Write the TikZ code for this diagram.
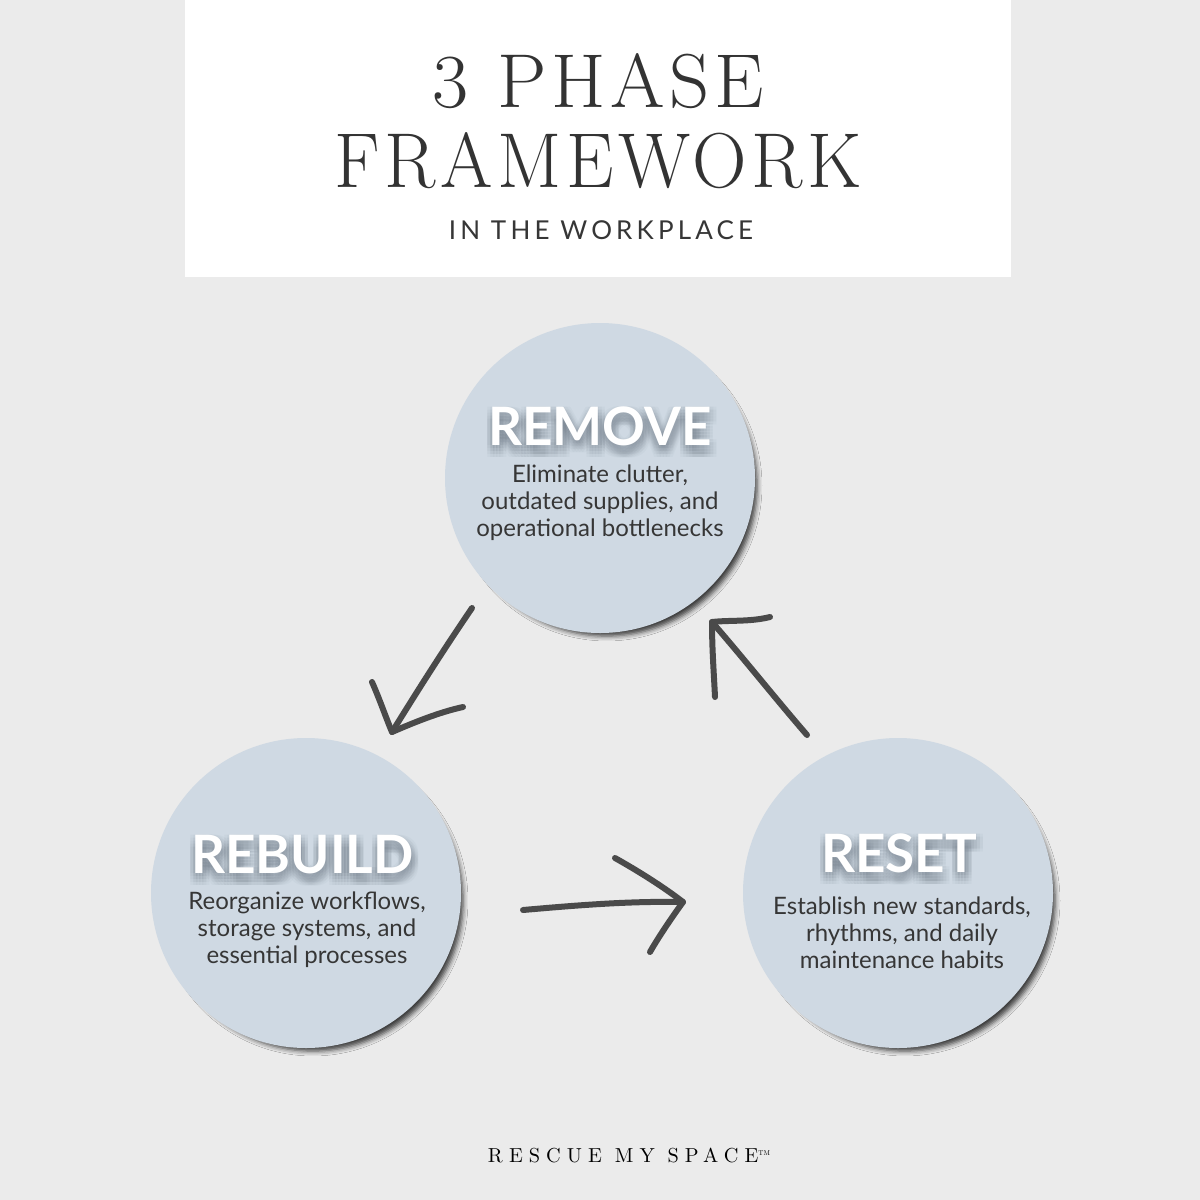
\documentclass[tikz,border=0pt]{standalone}
\usepackage{fontspec}
\usepackage{graphicx}
\usetikzlibrary{shadows.blur}
\setmainfont{Lato}
\newfontfamily\lato{Lato}
\newfontfamily\latosp{Lato}[LetterSpace=16]
\newfontfamily\didot{lmroman17-regular}[Extension=.otf,LetterSpace=6]
\newfontfamily\didotsp{lmroman10-regular}[Extension=.otf,LetterSpace=30]
\newfontfamily\didotplain{lmroman10-regular}[Extension=.otf]
\definecolor{bg}{HTML}{EBEBEB}
\definecolor{circ}{HTML}{CFD9E3}
\definecolor{ink}{HTML}{363636}
\definecolor{titleink}{HTML}{333333}
\definecolor{arrowc}{HTML}{4A4A4A}
\definecolor{tsh}{HTML}{4F5A68}
\tikzset{
  phase/.style={circle, minimum size=310pt, inner sep=0pt, fill=circ,
    blur shadow={shadow xshift=7pt, shadow yshift=-8pt, shadow scale=0.97, shadow blur radius=5pt, shadow opacity=75}},
  ptitle/.style={font=\lato\bfseries\fontsize{53}{60}\selectfont, text=white, inner sep=0pt},
  ptsh/.style={font=\lato\bfseries\fontsize{53}{60}\selectfont, text=tsh, text opacity=0.04, inner sep=0pt},
  pbody/.style={font=\lato\fontsize{24}{27}\selectfont, text=ink, align=center, inner sep=0pt},
  hand/.style={draw=arrowc, line width=6pt, line cap=round, line join=round},
}
\newcommand\phasetitle[4]{%
  \foreach \dx in {-5,-2,1,4,7} {\foreach \dy in {0,3,6,9,12} {
    \node[ptsh, xshift=\dx pt, yshift=-\dy pt] at (#2,#3) {#4};}}
  \node[ptitle] (#1) at (#2,#3) {#4};}
\begin{document}
\begin{tikzpicture}[x=1pt, y=-1pt]
  \useasboundingbox (0,0) rectangle (1200,1200);
  \fill[bg] (0,0) rectangle (1200,1200);
  % header
  \node[fill=white, minimum width=826pt, minimum height=277pt, inner sep=0pt, anchor=north west] (header) at (185,0) {};
  \node[text=titleink, inner sep=0pt, anchor=base] (t1) at (598.5,107)
    {\resizebox{331pt}{54pt}{\didot\fontsize{80}{80}\selectfont 3 PHASE}};
  \node[text=titleink, inner sep=0pt, anchor=base] (t2) at (598.5,187)
    {\resizebox{527pt}{55pt}{\didot\fontsize{80}{80}\selectfont FRAMEWORK}};
  \node[text=ink, inner sep=0pt, anchor=base, font=\latosp\fontsize{26}{30}\selectfont] (t3) at (601,239) {IN THE WORKPLACE};
  % circles
  \node[phase] (remove) at (600,478) {};
  \node[phase] (rebuild) at (306,893) {};
  \node[phase] (reset) at (898,893) {};
  % titles with soft shadow
  \phasetitle{removeT}{600}{426.5}{REMOVE}
  \phasetitle{rebuildT}{302.5}{854.5}{REBUILD}
  \phasetitle{resetT}{899}{853.5}{RESET}
  % bodies (anchor at baseline of last line)
  \node[pbody, anchor=base] (removeB) at (600,536) {Eliminate clutter,\\outdated supplies, and\\operational bottlenecks};
  \node[pbody, anchor=base] (rebuildB) at (307,963) {Reorganize workflows,\\storage systems, and\\essential processes};
  \node[pbody, anchor=base] (resetB) at (902,968) {Establish new standards,\\rhythms, and daily\\maintenance habits};
  % arrows
  \coordinate (a1s) at (472,608); \coordinate (a1t) at (392,732);
  \coordinate (a1l) at (372,682); \coordinate (a1r) at (463,707);
  \draw[hand] (a1s) .. controls (440,655) and (415,695) .. (a1t);
  \draw[hand] (a1l) .. controls (380,700) and (386,718) .. (a1t) .. controls (415,722) and (440,712) .. (a1r);
  \coordinate (a2s) at (523,910); \coordinate (a2t) at (683,902);
  \coordinate (a2u) at (615,858); \coordinate (a2d) at (650,952);
  \draw[hand] (a2s) .. controls (580,905) and (630,901) .. (a2t);
  \draw[hand] (a2u) .. controls (640,872) and (665,888) .. (a2t) .. controls (670,920) and (658,938) .. (a2d);
  \coordinate (a3s) at (807,735); \coordinate (a3t) at (712,622);
  \coordinate (a3u) at (770,617); \coordinate (a3l) at (715,697);
  \draw[hand] (a3s) .. controls (775,698) and (745,660) .. (a3t);
  \draw[hand] (a3u) .. controls (750,622) and (730,620) .. (a3t) .. controls (712,650) and (714,675) .. (a3l);
  % footer
  \node[text=black, inner sep=0pt, anchor=base] (brand) at (629,1162)
    {\resizebox{282pt}{!}{\didotsp\fontsize{20}{20}\selectfont RESCUE MY SPACE\raisebox{0.75ex}{\didotplain\fontsize{7}{7}\selectfont TM}}};
\end{tikzpicture}
\end{document}
